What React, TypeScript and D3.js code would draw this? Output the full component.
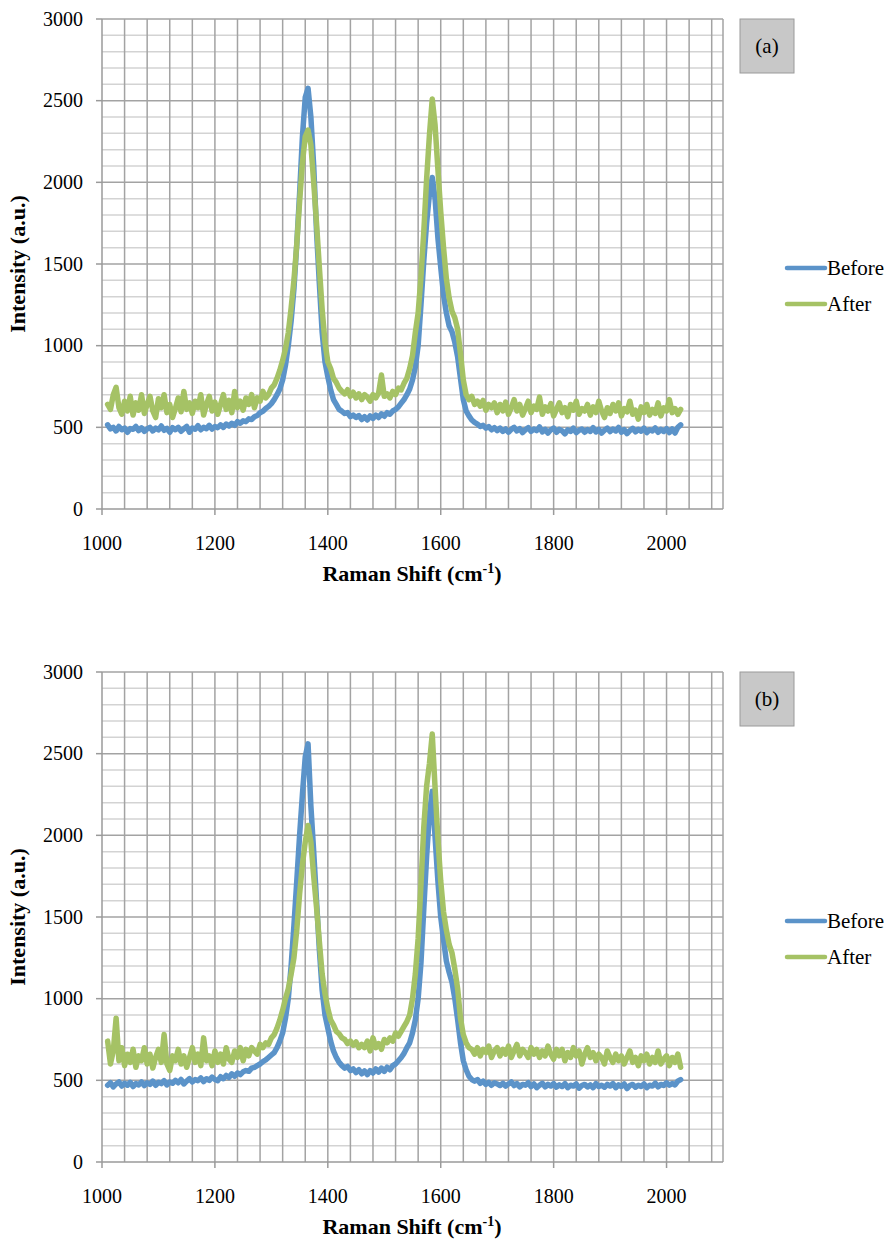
import React from 'react';
import * as d3 from 'd3';

// Raman shift samples (cm-1), one every 5 cm-1 from 1010 to 2025
const SHIFT: number[] = d3.range(1010, 2026, 5);

// Panel (a)
const BEFORE_A = [
  515, 490, 500, 478, 505, 485, 495, 470, 492, 488,
  505, 480, 497, 475, 490, 500, 478, 495, 485, 508,
  482, 494, 470, 498, 486, 500, 476, 492, 505, 470,
  495, 488, 510, 485, 500, 492, 512, 490, 505, 498,
  515, 500, 520, 508, 525, 512, 535, 525, 540, 535,
  552, 548, 565, 572, 590, 598, 615, 628, 645, 670,
  700, 735, 790, 880, 1000, 1150, 1350, 1620, 1930, 2280,
  2520, 2576, 2400, 2100, 1700, 1380, 1080, 900, 810, 730,
  670, 640, 610, 598, 585, 590, 565, 575, 560, 572,
  548, 565, 545, 570, 555, 575, 560, 582, 568, 590,
  580, 600, 610, 625, 648, 670, 700, 735, 790, 870,
  1000, 1250, 1520, 1750, 1930, 2030, 1900, 1660, 1480, 1310,
  1200, 1120, 1085, 1020, 930, 800, 670, 600, 570, 545,
  530, 520, 505, 512, 495, 505, 485, 498, 480, 495,
  475, 490, 470, 488, 500, 478, 492, 468, 485, 498,
  475, 490, 480, 502, 472, 488, 465, 485, 495, 470,
  488, 478, 460, 485, 475, 495, 468, 482, 490, 470,
  486, 475, 498, 472, 488, 465, 482, 495, 474, 490,
  478, 500, 470, 486, 462, 480, 494, 472, 488, 476,
  495, 468, 485, 478, 496, 470, 487, 475, 492, 468,
  490, 465, 500, 515,
];

const AFTER_A = [
  640, 610, 700, 745, 620, 580, 660, 600, 690, 575,
  650, 605, 700, 585, 640, 690, 600, 560, 675, 620,
  700, 590, 640, 560, 615, 680, 595, 720, 610, 650,
  585, 660, 620, 700, 575, 640, 690, 600, 655, 580,
  640, 700, 610, 665, 590, 720, 620, 660, 605, 680,
  640, 700, 620, 680, 660, 720, 680, 700, 740, 760,
  800, 850, 910, 980, 1080, 1230, 1400, 1620, 1880, 2120,
  2280, 2320, 2230, 2000, 1750, 1480, 1220, 1020, 900, 860,
  800, 775, 740, 720, 705, 730, 690, 715, 680, 705,
  670, 700, 685, 660, 700, 680, 710, 820, 690, 705,
  680, 720, 700, 740, 730, 770, 800, 860, 940, 1080,
  1200, 1420, 1700, 2020, 2290, 2510, 2350, 2080, 1820, 1600,
  1410, 1290, 1210, 1170, 1100, 950, 790, 700, 670, 690,
  640, 660, 630, 665, 605, 640, 620, 650, 590, 640,
  600, 655, 580, 620, 670, 600, 640, 575, 615, 660,
  590, 630, 610, 685, 580, 625, 600, 645, 570, 610,
  650, 590, 620, 565, 640, 605, 660, 580, 615, 600,
  640, 575, 625, 590, 660, 600, 560, 620, 585, 640,
  600, 650, 570, 615, 595, 660, 580, 605, 550, 625,
  590, 640, 575, 610, 585, 650, 570, 620, 600, 670,
  590, 615, 580, 610,
];

// Panel (b)
const BEFORE_B = [
  470, 485, 460, 478, 490, 465, 482, 470, 488, 462,
  480, 472, 490, 468, 485, 475, 495, 470, 488, 480,
  498, 472, 490, 482, 500, 485, 505, 478, 495, 510,
  490, 505, 498, 515, 492, 510, 500, 520, 505, 498,
  522, 510, 530, 518, 540, 525, 545, 535, 552, 560,
  555, 575, 580, 590, 600, 615, 625, 640, 655, 670,
  700, 740, 790, 880, 1000, 1200, 1450, 1720, 2000, 2250,
  2480, 2560, 2180, 1900, 1600, 1300, 1050, 900, 820, 740,
  680, 640, 610, 590, 575, 585, 560, 570, 548, 565,
  540, 558, 535, 560, 545, 570, 550, 575, 555, 580,
  565, 590, 600, 620, 640, 665, 700, 730, 790, 870,
  1000, 1220, 1550, 1870, 2130, 2270, 1990, 1720, 1500, 1360,
  1230, 1160, 1100, 1000, 870, 730, 620, 565, 525, 505,
  495, 505, 482, 495, 475, 488, 470, 485, 478, 468,
  482, 465, 478, 490, 468, 480, 460, 475, 470, 485,
  462, 478, 455, 470, 482, 460, 475, 465, 480, 458,
  472, 462, 480, 455, 470, 465, 478, 452, 468, 475,
  460, 472, 455, 480, 462, 470, 458, 475, 465, 480,
  455, 472, 462, 478, 450, 468, 475, 458, 470, 462,
  478, 455, 470, 465, 482, 460, 475, 468, 485, 470,
  480, 472, 495, 505,
];

const AFTER_B = [
  740, 600, 680, 880, 620, 700, 590, 660, 610, 690,
  580, 650, 620, 700, 600, 660, 575, 640, 690, 610,
  780, 600, 560, 650, 620, 690, 600, 650, 580, 640,
  700, 610, 660, 590, 760, 620, 650, 590, 680, 610,
  660, 600, 700, 630, 610, 680, 640, 700, 620, 690,
  650, 700, 680, 660, 720, 700, 730, 720, 760, 780,
  820, 870, 930, 1000, 1060, 1150, 1250, 1420, 1640, 1820,
  1960, 2060, 1960, 1750, 1560, 1350, 1150, 1030, 940, 870,
  840, 800, 785, 760, 750, 725, 740, 715, 735, 700,
  720, 700, 740, 680, 760, 700, 725, 690, 750, 730,
  760, 740, 790, 770, 800, 830, 860, 900, 1000, 1150,
  1370, 1700, 2050, 2300, 2440, 2620, 2290, 1980, 1720, 1530,
  1420, 1330, 1280, 1180, 1060, 880, 780, 730, 700, 690,
  660, 700, 650, 690, 670, 710, 640, 680, 700, 650,
  690, 660, 710, 640, 680, 720, 650, 690, 670, 640,
  700, 660, 690, 640, 680, 650, 710, 660, 630, 690,
  650, 690, 620, 670, 640, 700, 650, 680, 600, 660,
  700, 640, 670, 620, 660, 640, 600, 680, 640, 610,
  660, 620, 650, 600, 640, 680, 610, 640, 590, 650,
  620, 660, 600, 640, 610, 680, 600, 630, 650, 590,
  640, 610, 660, 580,
];

const X_TICKS = [1000, 1200, 1400, 1600, 1800, 2000];
const Y_TICKS = [0, 500, 1000, 1500, 2000, 2500, 3000];
const SERIES_NAMES = ['Before', 'After'];
const PANEL_LABELS = ['(a)', '(b)'];

const BLUE = '#5b93c9';
const GREEN = '#a5c265';
const FONT = 'Liberation Serif, Times New Roman, DejaVu Serif, serif';

type PanelProps = { top: number; before: number[]; after: number[]; label: string };

function Panel({ top, before, after, label }: PanelProps) {
  const left = 102;
  const right = 723;
  const height = 490;
  const bottom = top + height;
  const x = d3.scaleLinear().domain([1000, 2100]).range([left, right]);
  const y = d3.scaleLinear().domain([0, 3000]).range([bottom, top]);

  const vGrid = d3.range(1040, 2100, 40);
  const hGrid = d3.range(100, 3001, 100);

  const line = d3
    .line<number>()
    .x((_, i) => x(SHIFT[i]))
    .y((d) => y(d));

  const series = [
    { name: SERIES_NAMES[0], values: before, color: BLUE },
    { name: SERIES_NAMES[1], values: after, color: GREEN },
  ];

  const legendY = top + 249;
  const txt = { fontFamily: FONT };

  return (
    <g>
      {hGrid.map((v) => (
        <line
          key={'h' + v}
          x1={left}
          x2={right}
          y1={y(v)}
          y2={y(v)}
          stroke={v % 500 === 0 ? '#a3a3a3' : '#d3d3d3'}
          strokeWidth={1.5}
        />
      ))}
      {vGrid.map((v) => (
        <line key={'v' + v} x1={x(v)} x2={x(v)} y1={top} y2={bottom} stroke="#a3a3a3" strokeWidth={1.5} />
      ))}
      <line x1={right} x2={right} y1={top} y2={bottom} stroke="#a3a3a3" strokeWidth={1.5} />
      <line x1={left} x2={left} y1={top} y2={bottom} stroke="#9a9a9a" strokeWidth={1.5} />
      <line x1={left} x2={right} y1={bottom} y2={bottom} stroke="#9a9a9a" strokeWidth={1.5} />
      {Y_TICKS.map((t) => (
        <g key={'yt' + t}>
          <line x1={left - 6} x2={left} y1={y(t)} y2={y(t)} stroke="#9a9a9a" strokeWidth={1.5} />
          <text x={83} y={y(t) + 6.5} textAnchor="end" style={txt} fontSize={20} fill="#000">
            {t}
          </text>
        </g>
      ))}
      {X_TICKS.map((t) => (
        <g key={'xt' + t}>
          <line x1={x(t)} x2={x(t)} y1={bottom} y2={bottom + 6} stroke="#9a9a9a" strokeWidth={1.5} />
          <text x={x(t)} y={bottom + 41} textAnchor="middle" style={txt} fontSize={20} fill="#000">
            {t}
          </text>
        </g>
      ))}
      {series.map((s) => (
        <path
          key={s.name}
          d={line(s.values) || ''}
          fill="none"
          stroke={s.color}
          strokeWidth={5.5}
          strokeLinejoin="round"
          strokeLinecap="round"
        />
      ))}
      <text x={412} y={bottom + 72} textAnchor="middle" style={txt} fontSize={22} fontWeight="bold" fill="#000">
        Raman Shift (cm
        <tspan dy={-8} fontSize={14}>-1</tspan>
        <tspan dy={8}>)</tspan>
      </text>
      <text
        transform={`translate(25, ${(top + bottom) / 2}) rotate(-90)`}
        textAnchor="middle"
        style={txt}
        fontSize={22}
        fontWeight="bold"
        fill="#000"
      >
        Intensity (a.u.)
      </text>
      <rect x={740} y={top} width={54} height={54} fill="#c8c8c8" stroke="#9a9a9a" strokeWidth={1} />
      <text x={767} y={top + 34} textAnchor="middle" style={txt} fontSize={21} fill="#000">
        {label}
      </text>
      {series.map((s, i) => (
        <g key={'lg' + s.name}>
          <line
            x1={787}
            x2={825}
            y1={legendY + i * 36}
            y2={legendY + i * 36}
            stroke={s.color}
            strokeWidth={4.5}
            strokeLinecap="round"
          />
          <text x={827} y={legendY + i * 36 + 7} style={txt} fontSize={21} fill="#000">
            {s.name}
          </text>
        </g>
      ))}
    </g>
  );
}

export default function App() {
  return (
    <svg
      width={890}
      height={1240}
      viewBox="0 0 890 1240"
      style={{ position: 'absolute', left: 0, top: 0, background: '#fff' }}
    >
      <rect x={0} y={0} width={890} height={1240} fill="#fff" />
      <Panel top={19} before={BEFORE_A} after={AFTER_A} label={PANEL_LABELS[0]} />
      <Panel top={672} before={BEFORE_B} after={AFTER_B} label={PANEL_LABELS[1]} />
    </svg>
  );
}
